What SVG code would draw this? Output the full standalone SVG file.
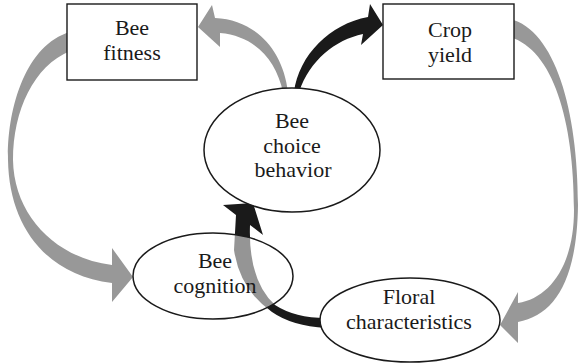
<svg xmlns="http://www.w3.org/2000/svg" width="579" height="363" viewBox="0 0 579 363">
<style>
.box{fill:#fff;stroke:#1a1a1a;stroke-width:1.4}
.ell{fill:#fff;stroke:#1a1a1a;stroke-width:1.5}
.ell-t{fill:#fff;fill-opacity:0.54;stroke:#1a1a1a;stroke-width:1.5}
.lbl{font-family:'Liberation Serif','DejaVu Serif','Times New Roman',serif;font-size:22px;fill:#1a1a1a;text-anchor:middle}
.gray{fill:#989898}
.black{fill:#1a1a1a}
</style>
<rect width="579" height="363" fill="#fff"/>
<g id="connectors">
  <path class="gray" d="M288,92 C283,50 256,20 215,18 L212,5 L198,27 L220,47 L220,33 C255,36 276,60 283,92 Z"/>
  <path class="black" d="M294,92 C299,55 330,24 368,17 L370,4 L383,25 L361,45 L363,34 C335,40 310,60 299,92 Z"/>
  <path class="gray" d="M70,32 C25,45 7,110 8,160 C9,225 45,275 112,283 L112,302 L133,277 L112,248 L112,265 C55,258 14,215 13,160 C13,110 34,66 70,51 Z"/>
  <path class="gray" d="M510,19 C555,30 578,110 578,205 C577,280 555,315 518,322 L518,343 L500,325 L518,292 L518,303 C550,298 574,265 574,210 C574,120 553,50 510,37 Z"/>
  <path class="black" d="M326,328 Q292,326 272,312 Q240,290 234,250 L236,215 L223,205 L253,203 L263,235 L250,225 Q248,280 275,305 Q295,318 326,318 Z"/>
</g>
<g id="bee-fitness">
  <rect class="box" x="67" y="4" width="130" height="76"/>
  <text class="lbl" x="132" y="35" font-family="Liberation Serif, serif">Bee</text>
  <text class="lbl" x="132" y="60" font-family="Liberation Serif, serif">fitness</text>
</g>
<g id="crop-yield">
  <rect class="box" x="383" y="4" width="131" height="75"/>
  <text class="lbl" x="450" y="37" font-family="Liberation Serif, serif">Crop</text>
  <text class="lbl" x="450" y="62" font-family="Liberation Serif, serif">yield</text>
</g>
<g id="bee-choice-behavior">
  <ellipse class="ell" cx="292" cy="150" rx="88" ry="62"/>
  <text class="lbl" x="292" y="128" font-family="Liberation Serif, serif">Bee</text>
  <text class="lbl" x="292" y="153" font-family="Liberation Serif, serif">choice</text>
  <text class="lbl" x="293" y="177" font-family="Liberation Serif, serif">behavior</text>
</g>
<g id="bee-cognition">
  <ellipse class="ell-t" cx="213" cy="276" rx="80" ry="43"/>
  <text class="lbl" x="215" y="268" font-family="Liberation Serif, serif">Bee</text>
  <text class="lbl" x="215" y="293" font-family="Liberation Serif, serif">cognition</text>
</g>
<g id="floral-characteristics">
  <ellipse class="ell" cx="410" cy="320" rx="90" ry="42"/>
  <text class="lbl" x="409" y="304" font-family="Liberation Serif, serif">Floral</text>
  <text class="lbl" x="409" y="329" font-family="Liberation Serif, serif">characteristics</text>
</g>
</svg>
